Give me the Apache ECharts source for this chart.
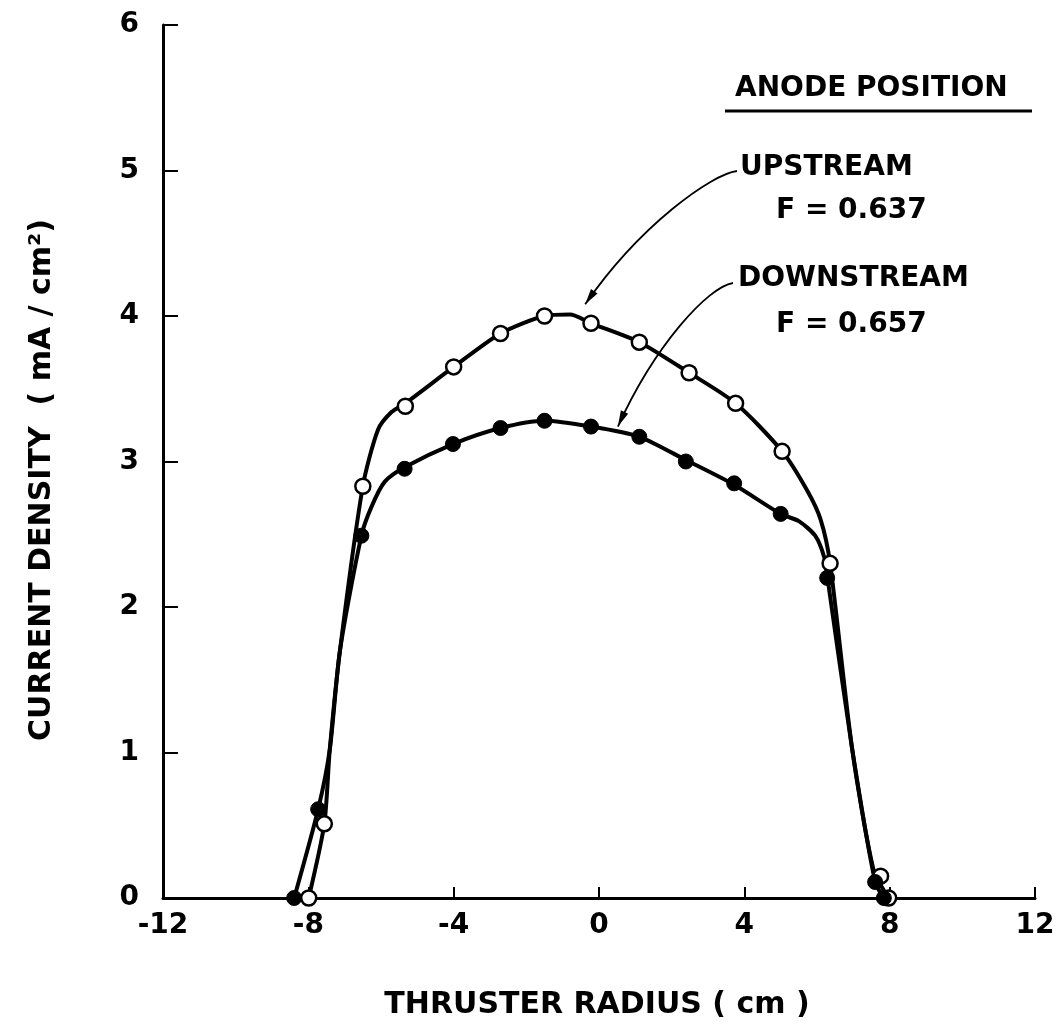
<!DOCTYPE html>
<html>
<head>
<meta charset="utf-8">
<script src="https://cdn.jsdelivr.net/npm/echarts@6/dist/echarts.min.js"></script>
<style>
html,body{margin:0;padding:0;background:#fff;}
#c{width:1060px;height:1025px;}
</style>
</head>
<body>
<div id="c"></div>
<script>
// ---- data ----
const xTickLabels = [-12, -8, -4, 0, 4, 8, 12];
const yTickLabels = [0, 1, 2, 3, 4, 5, 6];

// measured points (open circles) - upstream anode, F = 0.637
const upstreamPoints = [
  [-7.99, 0], [-7.56, 0.51], [-6.50, 2.83], [-5.33, 3.38], [-4.00, 3.65],
  [-2.71, 3.88], [-1.50, 4.00], [-0.22, 3.95], [1.11, 3.82], [2.48, 3.61],
  [3.76, 3.40], [5.04, 3.07], [6.36, 2.30], [7.75, 0.15], [7.97, 0]
];
// measured points (filled circles) - downstream anode, F = 0.657
const downstreamPoints = [
  [-8.39, 0], [-7.73, 0.61], [-6.54, 2.49], [-5.35, 2.95], [-4.02, 3.12],
  [-2.71, 3.23], [-1.50, 3.28], [-0.22, 3.24], [1.11, 3.17], [2.39, 3.00],
  [3.72, 2.85], [5.00, 2.64], [6.28, 2.20], [7.60, 0.11], [7.84, 0]
];
// hand-drawn fitted curves
const upstreamCurve = [
  [-7.99, 0], [-7.56, 0.51], [-7.41, 1.02], [-7.13, 1.70], [-6.50, 2.83],
  [-6.08, 3.22], [-5.71, 3.34], [-5.33, 3.40], [-4.00, 3.65], [-2.71, 3.88],
  [-1.50, 4.00], [-0.80, 4.01], [-0.22, 3.95], [1.11, 3.82], [2.48, 3.61],
  [3.76, 3.40], [5.04, 3.07], [5.73, 2.80], [6.10, 2.60], [6.36, 2.30],
  [6.97, 1.02], [7.56, 0.19], [7.97, 0]
];
const downstreamCurve = [
  [-8.39, 0], [-7.73, 0.61], [-7.41, 1.02], [-7.13, 1.70], [-6.54, 2.49],
  [-6.26, 2.69], [-5.90, 2.86], [-5.35, 2.96], [-4.02, 3.12], [-2.71, 3.23],
  [-1.50, 3.28], [-0.22, 3.24], [1.11, 3.17], [2.39, 3.01], [3.72, 2.84],
  [5.00, 2.64], [5.50, 2.59], [5.95, 2.49], [6.20, 2.34], [6.30, 2.18],
  [6.97, 1.02], [7.60, 0.11], [7.84, 0]
];
const upstreamArrowTip = [-0.38, 4.08];
const downstreamArrowTip = [0.52, 3.24];

const FONT = 'DejaVu Sans';
const chart = echarts.init(document.getElementById('c'), null, {renderer: 'canvas'});

const option = {
  backgroundColor: '#fff',
  animation: false,
  grid: {left: 163, right: 25, top: 25, bottom: 127},
  xAxis: {
    type: 'value', min: xTickLabels[0], max: xTickLabels[xTickLabels.length - 1], interval: 4,
    axisLine: {show: true, onZero: false, lineStyle: {color: '#000', width: 3}},
    axisTick: {show: true, inside: true, length: 11, lineStyle: {color: '#000', width: 2}},
    splitLine: {show: false},
    axisLabel: {color: '#000', fontSize: 28, fontFamily: FONT, fontWeight: 'bold', margin: 14,
      formatter: v => xTickLabels.includes(v) ? (v < 0 ? '-' + Math.abs(v) : String(v)) : ''}
  },
  yAxis: {
    type: 'value', min: yTickLabels[0], max: yTickLabels[yTickLabels.length - 1], interval: 1,
    axisLine: {show: true, onZero: false, lineStyle: {color: '#000', width: 3}},
    axisTick: {show: true, inside: true, length: 15, lineStyle: {color: '#000', width: 2}},
    splitLine: {show: false},
    axisLabel: {color: '#000', fontSize: 28, fontFamily: FONT, fontWeight: 'bold', margin: 24}
  },
  series: [
    {type: 'line', data: upstreamCurve, smooth: 0.25, showSymbol: false, symbol: 'none',
      lineStyle: {color: '#000', width: 4}, z: 2},
    {type: 'line', data: downstreamCurve, smooth: 0.25, showSymbol: false, symbol: 'none',
      lineStyle: {color: '#000', width: 4}, z: 2},
    {type: 'scatter', data: upstreamPoints, symbol: 'circle', symbolSize: 15,
      itemStyle: {color: '#fff', borderColor: '#000', borderWidth: 2.5, opacity: 1}, z: 4},
    {type: 'scatter', data: downstreamPoints, symbol: 'circle', symbolSize: 15,
      itemStyle: {color: '#000', borderColor: '#000', borderWidth: 1, opacity: 1}, z: 5}
  ]
};
chart.setOption(option);

function arrowHead(tip, from, len, half) {
  const dx = tip[0] - from[0], dy = tip[1] - from[1];
  const d = Math.hypot(dx, dy), ux = dx / d, uy = dy / d;
  const bx = tip[0] - ux * len, by = tip[1] - uy * len;
  return [[tip[0], tip[1]], [bx - uy * half, by + ux * half], [bx + uy * half, by - ux * half]];
}

const upTip = chart.convertToPixel({gridIndex: 0}, upstreamArrowTip);
const downTip = chart.convertToPixel({gridIndex: 0}, downstreamArrowTip);
const upStart = [737, 171], downStart = [733, 283];
const upC1 = [712, 174], upC2 = [640, 225];
const downC1 = [708, 287], downC2 = [655, 345];

const F28 = 'bold 28px "' + FONT + '"';
const F30 = 'bold 30px "' + FONT + '"';
const txt = (x, y, text) => ({
  type: 'text', x: x, y: y,
  style: {text: text, fill: '#000', font: F28, textVerticalAlign: 'middle'}
});

chart.setOption({
  graphic: [
    txt(735, 89, 'ANODE POSITION'),
    {type: 'line', shape: {x1: 725, y1: 111, x2: 1032, y2: 111}, style: {stroke: '#000', lineWidth: 3}},
    txt(740, 168, 'UPSTREAM'),
    txt(776, 211, 'F = 0.637'),
    txt(738, 279, 'DOWNSTREAM'),
    txt(776, 325, 'F = 0.657'),
    {type: 'bezierCurve', shape: {x1: upStart[0], y1: upStart[1], cpx1: upC1[0], cpy1: upC1[1],
      cpx2: upC2[0], cpy2: upC2[1], x2: upTip[0], y2: upTip[1]},
      style: {stroke: '#000', lineWidth: 1.8, fill: null}},
    {type: 'polygon', shape: {points: arrowHead(upTip, upC2, 16, 4)}, style: {fill: '#000'}},
    {type: 'bezierCurve', shape: {x1: downStart[0], y1: downStart[1], cpx1: downC1[0], cpy1: downC1[1],
      cpx2: downC2[0], cpy2: downC2[1], x2: downTip[0], y2: downTip[1]},
      style: {stroke: '#000', lineWidth: 1.8, fill: null}},
    {type: 'polygon', shape: {points: arrowHead(downTip, downC2, 16, 4)}, style: {fill: '#000'}},
    {type: 'text', x: 597, y: 1005,
      style: {text: 'THRUSTER RADIUS ( cm )', fill: '#000', font: F30,
        textAlign: 'center', textVerticalAlign: 'middle'}},
    {type: 'text', x: 42, y: 480, rotation: Math.PI / 2,
      style: {text: 'CURRENT DENSITY  ( mA / cm²)', fill: '#000', font: F30,
        textAlign: 'center', textVerticalAlign: 'middle'}}
  ]
});
</script>
</body>
</html>
